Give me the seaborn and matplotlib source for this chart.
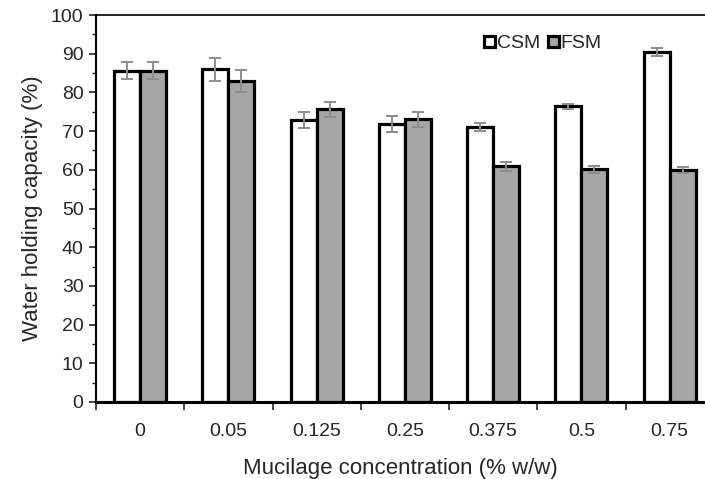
import numpy as np
import pandas as pd
import matplotlib
matplotlib.use("Agg")
import matplotlib.pyplot as plt
import seaborn as sns

# values
concentrations = ["0", "0.05", "0.125", "0.25", "0.375", "0.5", "0.75"]
csm_mean = [85.6, 86.0, 72.9, 71.9, 71.0, 76.4, 90.4]
csm_err = [2.2, 3.0, 2.0, 2.1, 1.0, 0.65, 1.1]
fsm_mean = [85.6, 82.9, 75.6, 73.0, 60.9, 60.1, 60.0]
fsm_err = [2.2, 2.9, 2.0, 2.0, 1.15, 0.8, 0.8]

df = pd.DataFrame({
    "conc": concentrations * 2,
    "whc": csm_mean + fsm_mean,
    "sample": ["CSM"] * 7 + ["FSM"] * 7,
})

sns.set_style("ticks")
plt.rcParams["font.family"] = ["Liberation Sans", "DejaVu Sans"]

fig = plt.figure(figsize=(7.05, 4.79), dpi=100)
ax = fig.add_axes([96 / 705, 77 / 479, 1 - 96 / 705, 387 / 479])

sns.barplot(data=df, x="conc", y="whc", hue="sample", order=concentrations,
            palette={"CSM": "white", "FSM": "#a6a6a6"}, width=0.59,
            edgecolor="black", linewidth=2.3, errorbar=None, ax=ax)

# error bars on each bar
for cont, errs in zip(ax.containers, [csm_err, fsm_err]):
    xs = [b.get_x() + b.get_width() / 2 for b in cont]
    ys = [b.get_height() for b in cont]
    ax.errorbar(xs, ys, yerr=errs, fmt="none", ecolor="#8c8c8c",
                elinewidth=1.4, capsize=4, capthick=1.4, zorder=5)

ax.set_xlim(-0.5, 6.4)
ax.set_ylim(0, 100)
ax.set_yticks(np.arange(0, 101, 10))
ax.set_yticks(np.arange(0, 101, 5), minor=True)
ax.tick_params(axis="y", which="major", length=5, width=1.2, labelsize=14, direction="out", pad=4)
ax.tick_params(axis="y", which="minor", length=3, width=1.0, direction="out")
ax.set_xticks(range(len(concentrations)))
ax.set_xticklabels(concentrations)
ax.set_xticks(np.arange(-0.5, 6, 1), minor=True)
ax.tick_params(axis="x", which="major", length=0, labelsize=14, pad=15)
ax.tick_params(axis="x", which="minor", length=6, width=1.2, direction="out")

for side in ["left", "bottom", "top"]:
    ax.spines[side].set_visible(True)
    ax.spines[side].set_color("black")
ax.spines["left"].set_linewidth(1.5)
ax.spines["bottom"].set_linewidth(2.2)
ax.spines["top"].set_linewidth(1.2)
ax.spines["right"].set_visible(False)

ax.set_xlabel("Mucilage concentration (% w/w)", fontsize=16, labelpad=13)
ax.set_ylabel("Water holding capacity (%)", fontsize=16, labelpad=6)

handles, labels = ax.get_legend_handles_labels()
ax.legend(handles, labels, loc="center left", bbox_to_anchor=(467 / 705, 1 - 44 / 479),
          bbox_transform=fig.transFigure, ncol=2, frameon=False, fontsize=14,
          handlelength=0.55, handleheight=0.55, handletextpad=0.1, columnspacing=0.4)

fig.savefig("out.png", dpi=100)
